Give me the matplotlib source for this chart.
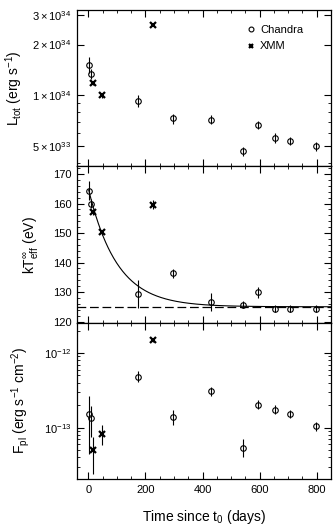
import numpy as np
import matplotlib
matplotlib.use('Agg')
import matplotlib.pyplot as plt
from matplotlib.lines import Line2D
from matplotlib.ticker import FixedLocator, FixedFormatter, MultipleLocator, LogLocator, NullFormatter

plt.rcParams['font.family'] = ['Liberation Sans', 'DejaVu Sans']
plt.rcParams['mathtext.fontset'] = 'custom'
plt.rcParams['mathtext.rm'] = 'Liberation Sans'
plt.rcParams['mathtext.it'] = 'Liberation Sans:italic'
plt.rcParams['mathtext.default'] = 'rm'

# Chandra observations
t_chandra = [1, 10, 174, 298, 431, 541, 593, 654, 707, 798]
L_chandra = [1.52e34, 1.34e34, 9.3e33, 7.3e33, 7.2e33, 4.68e33, 6.7e33, 5.6e33, 5.4e33, 5.0e33]
L_chandra_err = [1.6e33, 0.9e33, 0.75e33, 0.5e33, 0.45e33, 0.3e33, 0.4e33, 0.35e33, 0.3e33, 0.3e33]
kT_chandra = [164.4, 159.9, 129.4, 136.3, 126.6, 125.7, 129.9, 124.4, 124.4, 124.4]
kT_chandra_err = [3.2, 1.5, 4.7, 1.5, 3.0, 1.2, 1.8, 1.3, 1.3, 1.3]
F_chandra = [1.54e-13, 1.34e-13, 4.83e-13, 1.37e-13, 3.08e-13, 5.4e-14, 2.03e-13, 1.75e-13, 1.52e-13, 1.04e-13]
F_chandra_lo = [4.5e-14, 7.4e-14, 4.1e-13, 1.08e-13, 2.68e-13, 4.1e-14, 1.77e-13, 1.53e-13, 1.33e-13, 0.9e-13]
F_chandra_hi = [2.65e-13, 1.98e-13, 5.7e-13, 1.72e-13, 3.55e-13, 7.1e-14, 2.33e-13, 2.0e-13, 1.74e-13, 1.2e-13]

# XMM observations
t_xmm = [16, 48, 225]
L_xmm = [1.18e34, 1.0e34, 2.61e34]
L_xmm_err = [0.3e33, 0.3e33, 0.5e33]
kT_xmm = [157.2, 150.2, 159.6]
kT_xmm_err = [1.0, 1.0, 1.5]
F_xmm = [4.98e-14, 8.3e-14, 1.5e-12]
F_xmm_lo = [2.4e-14, 5.9e-14, 1.42e-12]
F_xmm_hi = [7.5e-14, 1.1e-13, 1.58e-12]

# exponential cooling fit: kT = kT_inf + A exp(-t / tau)
kT_inf = 125.0
fit_A = 40.0
fit_tau = 100.0


def asym(vals, lo, hi):
    vals = np.array(vals)
    return [vals - np.array(lo), np.array(hi) - vals]


fig, axes = plt.subplots(3, 1, figsize=(3.34, 5.30), dpi=100, sharex=True)
fig.subplots_adjust(left=0.2305, right=0.991, top=0.981, bottom=0.0962, hspace=0)
ax1, ax2, ax3 = axes

ckw = dict(fmt='o', ms=4, mfc='none', mec='black', mew=0.8, ecolor='black', elinewidth=0.8, capsize=0, color='black')
xkw = dict(fmt='x', ms=4, mec='black', mew=1.6, ecolor='black', elinewidth=0.8, capsize=0, color='black')

# top: total luminosity
ax1.errorbar(t_chandra, L_chandra, yerr=L_chandra_err, **ckw)
ax1.errorbar(t_xmm, L_xmm, yerr=L_xmm_err, **xkw)
ax1.set_yscale('log')
ax1.set_ylim(3.8e33, 3.2e34)
ax1.yaxis.set_major_locator(FixedLocator([5e33, 1e34, 2e34, 3e34]))
ax1.yaxis.set_major_formatter(FixedFormatter([r'$5\times10^{33}$', r'$1\times10^{34}$',
                                              r'$2\times10^{34}$', r'$3\times10^{34}$']))
ax1.yaxis.set_minor_locator(LogLocator(base=10, subs=np.arange(1, 10) * 1.0, numticks=20))
ax1.yaxis.set_minor_formatter(NullFormatter())
ax1.set_ylabel(r'L$_{tot}$ (erg s$^{-1}$)', fontsize=10, labelpad=5)
handles = [Line2D([], [], ls='none', marker='o', ms=3.5, mfc='none', mec='black', mew=0.8),
           Line2D([], [], ls='none', marker='x', ms=3.5, mec='black', mew=1.6)]
ax1.legend(handles, ['Chandra', 'XMM'], loc='upper right', bbox_to_anchor=(0.93, 0.97),
           frameon=False, fontsize=8, handletextpad=0.1, handlelength=1.5,
           borderaxespad=0.5, labelspacing=0.6)

# middle: temperature
tt = np.linspace(1, 850, 400)
ax2.plot(tt, kT_inf + fit_A * np.exp(-tt / fit_tau), color='black', lw=0.8)
ax2.axhline(kT_inf, color='black', lw=0.9, ls=(0, (7, 3)))
ax2.errorbar(t_chandra, kT_chandra, yerr=kT_chandra_err, **ckw)
ax2.errorbar(t_xmm, kT_xmm, yerr=kT_xmm_err, **xkw)
ax2.set_ylim(119.6, 172.6)
ax2.yaxis.set_major_locator(MultipleLocator(10))
ax2.yaxis.set_minor_locator(MultipleLocator(2))
ax2.set_ylabel(r'kT$_{eff}^{\infty}$ (eV)', fontsize=10, labelpad=9)

# bottom: power-law flux
ax3.errorbar(t_chandra, F_chandra, yerr=asym(F_chandra, F_chandra_lo, F_chandra_hi), **ckw)
ax3.errorbar(t_xmm, F_xmm, yerr=asym(F_xmm, F_xmm_lo, F_xmm_hi), **xkw)
ax3.set_yscale('log')
ax3.set_ylim(2.05e-14, 2.55e-12)
ax3.yaxis.set_major_locator(FixedLocator([1e-13, 1e-12]))
ax3.yaxis.set_major_formatter(FixedFormatter([r'$10^{-13}$', r'$10^{-12}$']))
ax3.yaxis.set_minor_locator(LogLocator(base=10, subs=np.arange(1, 10) * 1.0, numticks=20))
ax3.yaxis.set_minor_formatter(NullFormatter())
ax3.set_ylabel(r'F$_{pl}$ (erg s$^{-1}$ cm$^{-2}$)', fontsize=10, labelpad=9)
ax3.set_xlabel(r'Time since t$_0$ (days)', fontsize=10, labelpad=10)

ax3.set_xlim(-40, 850)
ax3.xaxis.set_major_locator(MultipleLocator(200))
ax3.xaxis.set_minor_locator(MultipleLocator(50))

for ax in axes:
    ax.tick_params(which='both', direction='in', top=True, right=True, labelsize=8, pad=4)
    ax.tick_params(which='major', length=5, width=0.8)
    ax.tick_params(which='minor', length=2.5, width=0.6)
    for s in ax.spines.values():
        s.set_linewidth(0.9)

fig.savefig('out.png', dpi=100)
